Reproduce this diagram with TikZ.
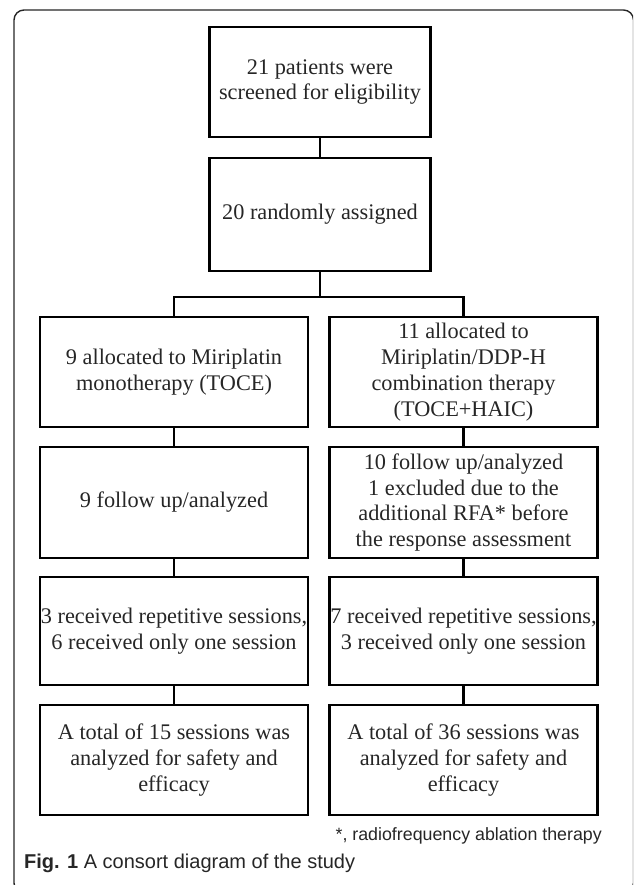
\documentclass[tikz,border=0pt]{standalone}
\usepackage{fontspec}
\setmainfont{Liberation Serif}
\newfontfamily\capfont{Liberation Sans}
\begin{document}
\begin{tikzpicture}[x=1pt,y=-1pt,
  box/.style={draw=black, line width=2.8pt, align=center, inner sep=0pt,
    font=\fontsize{22.3}{25.8}\selectfont, text=black!85},
  colbox/.style={box, minimum width=268pt},
  link/.style={line width=2.8pt, line join=miter},
  note/.style={font=\capfont\fontsize{17.8}{20}\selectfont, text=black!85, inner sep=0pt}]
\useasboundingbox (0,0) rectangle (633,885);
\clip (0,0) rectangle (633,885);
\draw[line width=1.4pt, rounded corners=10pt, black!85] (14,10) rectangle (633.5,893);

\node[box, minimum width=221pt, minimum height=110pt] (b1) at (320,82)
  {21 patients were\\screened for eligibility};
\node[box, minimum width=221pt, minimum height=113pt] (b2) at (320,214.5)
  {20 randomly assigned};

\node[colbox, minimum height=110pt] (l1) at (174,372)
  {9 allocated to Miriplatin\\monotherapy (TOCE)};
\node[colbox, minimum height=110pt] (r1) at (463.5,372)
  {11 allocated to\\Miriplatin/DDP-H\\combination therapy\\(TOCE+HAIC)};

\node[colbox, minimum height=111pt] (l2) at (174,502.5)
  {9 follow up/analyzed};
\node[colbox, minimum height=111pt] (r2) at (463.5,502.5)
  {10 follow up/analyzed\\1 excluded due to the\\additional RFA* before\\the response assessment};

\node[colbox, minimum height=108pt] (l3) at (174,631)
  {3 received repetitive sessions,\\6 received only one session};
\node[colbox, minimum height=108pt] (r3) at (463.5,631)
  {7 received repetitive sessions,\\3 received only one session};

\node[colbox, minimum height=110pt] (l4) at (174,760)
  {A total of 15 sessions was\\analyzed for safety and\\efficacy};
\node[colbox, minimum height=110pt] (r4) at (463.5,760)
  {A total of 36 sessions was\\analyzed for safety and\\efficacy};

\coordinate (split) at (320,297);
\draw[link] (b1) -- (b2);
\draw[link] (b2.south) -- (split);
\draw[link] (l1.north) -- (l1.north |- split) -- (r1.north |- split) -- (r1.north);
\draw[link] (l1) -- (l2);
\draw[link] (l2) -- (l3);
\draw[link] (l3) -- (l4);
\draw[link] (r1) -- (r2);
\draw[link] (r2) -- (r3);
\draw[link] (r3) -- (r4);

\node[note, anchor=east] (fn) at (602,836) {*, radiofrequency ablation therapy};
\node[note, anchor=west, font=\capfont\fontsize{20}{22}\selectfont] (cap) at (24,863)
  {\textbf{Fig. 1} A consort diagram of the study};
\end{tikzpicture}
\end{document}
